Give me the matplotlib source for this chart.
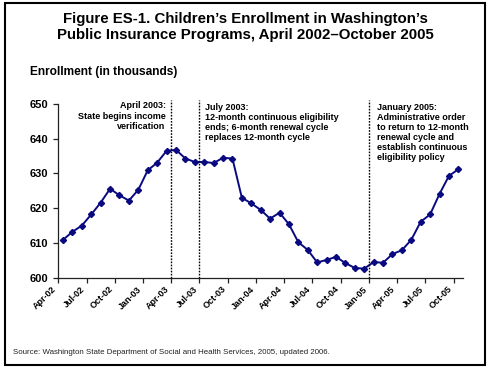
import numpy as np
import matplotlib.pyplot as plt
from matplotlib.patches import Rectangle

plt.rcParams['font.family'] = ['Liberation Sans', 'DejaVu Sans']

# monthly enrollment, Apr-02 .. Oct-05 (thousands)
enrollment = [610.9, 613.2, 615.0, 618.2, 621.6, 625.6, 623.7, 622.2, 625.3, 630.9,
              633.1, 636.5, 636.8, 634.3, 633.3, 633.3, 633.0, 634.5, 634.3, 623.0,
              621.4, 619.5, 617.0, 618.7, 615.4, 610.2, 608.0, 604.4, 605.1, 606.0,
              604.2, 602.8, 602.6, 604.5, 604.3, 606.8, 607.9, 610.9, 616.1, 618.2,
              624.1, 629.3, 631.2]
tick_labels = ['Apr-02', 'Jul-02', 'Oct-02', 'Jan-03', 'Apr-03', 'Jul-03', 'Oct-03',
               'Jan-04', 'Apr-04', 'Jul-04', 'Oct-04', 'Jan-05', 'Apr-05', 'Jul-05', 'Oct-05']
yticks = [600, 610, 620, 630, 640, 650]

# policy events: month index where the dotted line is drawn (boundary before month)
event_pos = [12, 15, 33]

navy = '#0a0a80'

fig = plt.figure(figsize=(4.9, 3.7), dpi=100)
ax = fig.add_axes([0.119, 0.2495, 0.826, 0.4695])

x = np.arange(len(enrollment))
ax.plot(x, enrollment, color=navy, linewidth=1.4, marker='D', markersize=3.1,
        markerfacecolor=navy, markeredgecolor=navy)

for p in event_pos:
    ax.plot([p - 0.5, p - 0.5], [600, 651], color='black', linestyle=(0, (1.2, 1.0)),
            linewidth=1.0, clip_on=False)

ax.set_xlim(-0.5, len(enrollment) - 0.5)
ax.set_ylim(600, 650)
ax.set_yticks(yticks)
ax.set_yticklabels([str(v) for v in yticks], fontsize=8, fontweight='bold')
ax.set_xticks(np.arange(len(tick_labels)) * 3 - 0.5)
ax.set_xticklabels(tick_labels, rotation=45, ha='right', va='top',
                   fontsize=6.5, fontweight='bold')

for side in ['top', 'right']:
    ax.spines[side].set_visible(False)
for side in ['left', 'bottom']:
    ax.spines[side].set_color('#222222')
    ax.spines[side].set_linewidth(0.9)
ax.tick_params(axis='both', direction='out', length=3.5, width=0.9, color='#222222')
ax.tick_params(axis='y', pad=4)
ax.tick_params(axis='x', pad=1.5)

txt = dict(fontsize=6.5, fontweight='bold', va='top', linespacing=1.15)
fig.text(165.5 / 490, 1 - 101.5 / 370, 'April 2003:\nState begins income\nverification',
         ha='right', **txt)
fig.text(205 / 490, 1 - 103 / 370,
         'July 2003:\n12-month continuous eligibility\nends; 6-month renewal cycle\nreplaces 12-month cycle',
         ha='left', **txt)
fig.text(377 / 490, 1 - 103 / 370,
         'January 2005:\nAdministrative order\nto return to 12-month\nrenewal cycle and\nestablish continuous\neligibility policy',
         ha='left', **txt)

fig.text(0.5, 1 - 27 / 370,
         'Figure ES-1. Children\u2019s Enrollment in Washington\u2019s\nPublic Insurance Programs, April 2002\u2013October 2005',
         ha='center', va='center', fontsize=10.8, fontweight='bold', linespacing=1.1)
fig.text(30 / 490, 1 - 72 / 370, 'Enrollment (in thousands)', ha='left', va='center',
         fontsize=8.6, fontweight='bold')
fig.text(13 / 490, 1 - 353 / 370,
         'Source: Washington State Department of Social and Health Services, 2005, updated 2006.',
         ha='left', va='center', fontsize=5.7, color='#222222')

fig.patches.append(Rectangle((5 / 490, 1 - 365 / 370), 480 / 490, 362 / 370,
                             transform=fig.transFigure, fill=False,
                             edgecolor='black', linewidth=1.5))

fig.savefig('out.png', dpi=100)
